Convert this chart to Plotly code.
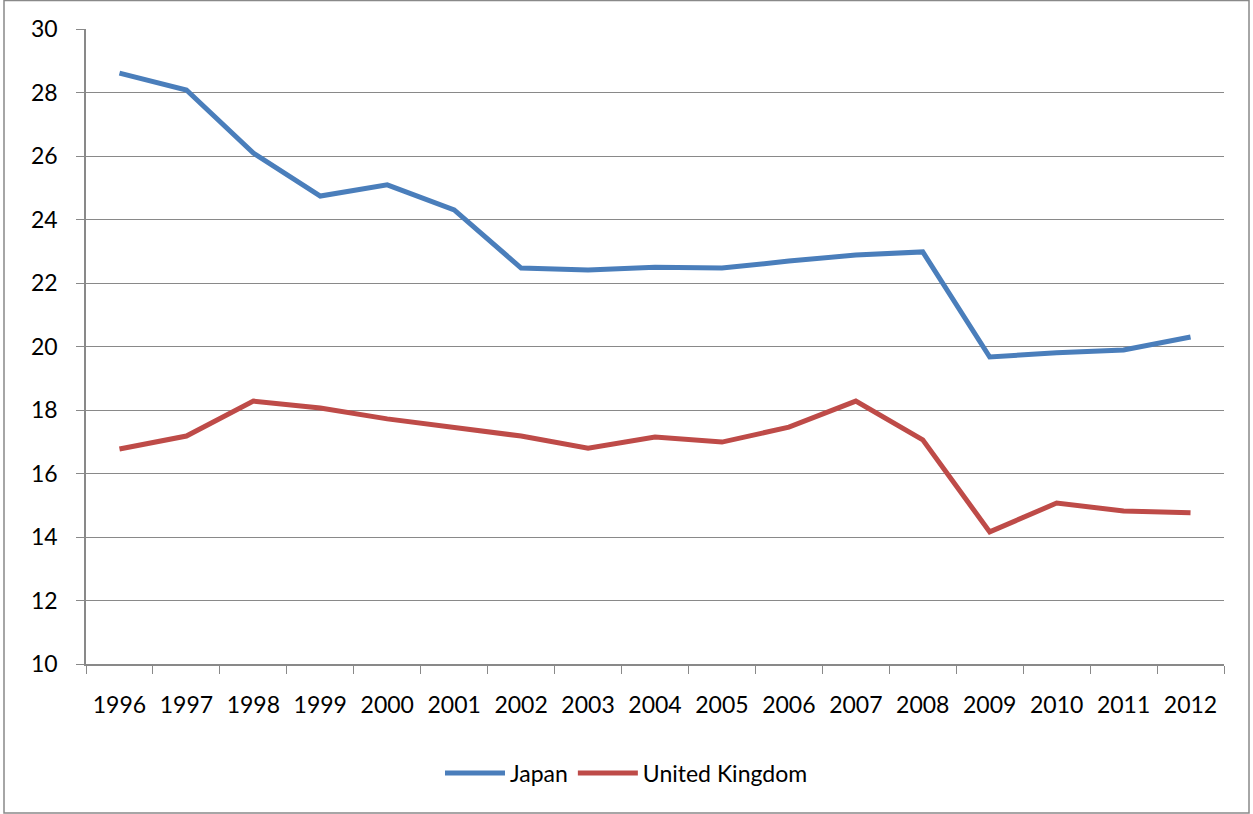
import plotly.graph_objects as go

years = [str(y) for y in range(1996, 2013)]
japan = [28.61, 28.08, 26.09, 24.74, 25.09, 24.30, 22.47, 22.41, 22.50, 22.47,
         22.69, 22.88, 22.98, 19.67, 19.80, 19.89, 20.30]
united_kingdom = [16.77, 17.18, 18.28, 18.06, 17.72, 17.46, 17.18, 16.80, 17.15, 16.99,
                  17.46, 18.28, 17.06, 14.16, 15.07, 14.82, 14.76]

W, H = 1253, 814
ML, MR, MT, MB = 86, 29, 29, 150
grid = "#898989"
font = "Lato"

fig = go.Figure()
fig.add_trace(go.Scatter(x=years, y=japan, name="Japan", mode="lines",
                         line=dict(color="#4A7EBB", width=5)))
fig.add_trace(go.Scatter(x=years, y=united_kingdom, name="United Kingdom", mode="lines",
                         line=dict(color="#BE4B48", width=5)))

pw, ph = W - ML - MR, H - MT - MB
# outer chart frame
fig.add_shape(type="rect", xref="paper", yref="paper",
              x0=(4 - ML) / pw, x1=(W - 4 - ML) / pw,
              y0=(H - MB - (H - 1)) / ph, y1=(H - MB - 0.5) / ph,
              line=dict(color=grid, width=1.5), fillcolor="rgba(0,0,0,0)", layer="below")

fig.update_layout(
    width=W, height=H,
    margin=dict(l=ML, r=MR, t=MT, b=MB),
    paper_bgcolor="white", plot_bgcolor="white",
    font=dict(family=font, size=23, color="black"),
    showlegend=True,
    legend=dict(orientation="h", xref="container", yref="container",
                x=0.5, xanchor="center", y=1 - 773 / H, yanchor="middle",
                font=dict(size=23), itemwidth=60),
    xaxis=dict(type="category", tickson="boundaries", ticks="outside", ticklen=8,
               tickcolor=grid, showline=True, linecolor=grid, linewidth=1.5,
               showgrid=False, ticklabelstandoff=20, range=[-0.5, 16.5]),
    yaxis=dict(range=[10, 30], dtick=2, ticks="outside", ticklen=8, tickcolor=grid,
               showline=True, linecolor=grid, linewidth=1.5, showgrid=True,
               gridcolor=grid, gridwidth=1.2, zeroline=False, ticklabelstandoff=14),
)

fig.write_html("out.html")
